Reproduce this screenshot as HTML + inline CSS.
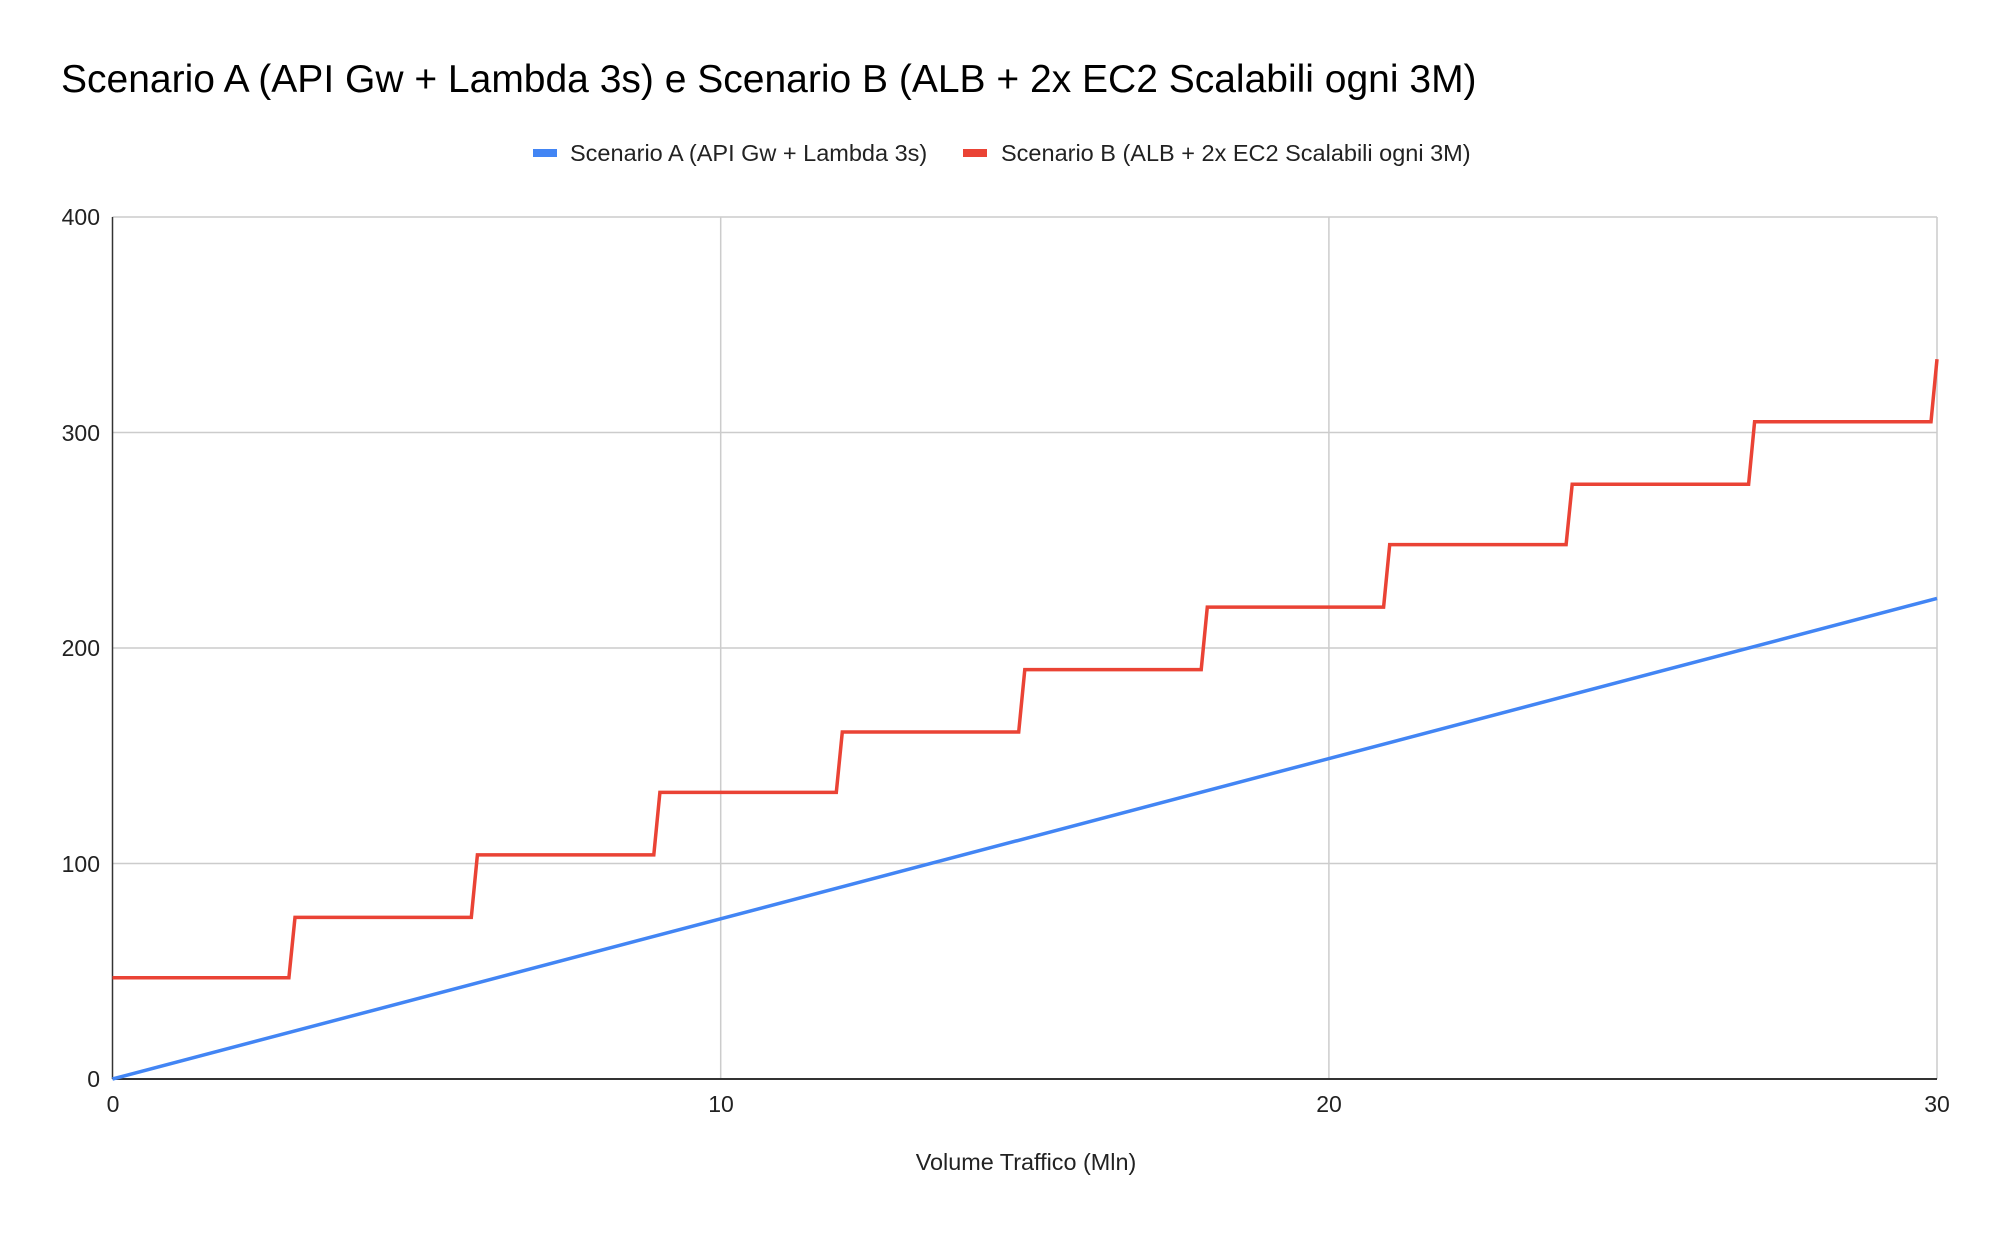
<!DOCTYPE html>
<html><head><meta charset="utf-8"><style>
html,body{margin:0;padding:0;background:#fff;}
svg{display:block;font-family:"Liberation Sans",Arial,sans-serif;}
</style></head><body>
<svg width="1999" height="1234" viewBox="0 0 1999 1234" xmlns="http://www.w3.org/2000/svg">
<rect width="1999" height="1234" fill="#fff"/>
<text x="61" y="92" font-size="39" fill="#000">Scenario A (API Gw + Lambda 3s) e Scenario B (ALB + 2x EC2 Scalabili ogni 3M)</text>
<rect x="533" y="149" width="24" height="8" fill="#4285f4"/>
<text x="570" y="161" font-size="23.5" fill="#222">Scenario A (API Gw + Lambda 3s)</text>
<rect x="963" y="149" width="24" height="8" fill="#ea4335"/>
<text x="1001" y="161" font-size="23.5" fill="#222">Scenario B (ALB + 2x EC2 Scalabili ogni 3M)</text>
<g stroke="#cccccc" stroke-width="1.5" fill="none">
<line x1="112.5" y1="217" x2="1937" y2="217"/>
<line x1="112.5" y1="432.5" x2="1937" y2="432.5"/>
<line x1="112.5" y1="648" x2="1937" y2="648"/>
<line x1="112.5" y1="863.5" x2="1937" y2="863.5"/>
<line x1="720.7" y1="217" x2="720.7" y2="1079"/>
<line x1="1328.9" y1="217" x2="1328.9" y2="1079"/>
<line x1="1937" y1="217" x2="1937" y2="1079"/>
</g>
<line x1="112.5" y1="217" x2="112.5" y2="1079" stroke="#333" stroke-width="1.5"/>
<line x1="112.5" y1="1079" x2="1937" y2="1079" stroke="#333" stroke-width="2"/>
<g font-size="23" fill="#222" text-anchor="end">
<text x="100" y="225">400</text>
<text x="100" y="441">300</text>
<text x="100" y="656">200</text>
<text x="100" y="872">100</text>
<text x="100" y="1087">0</text>
</g>
<g font-size="23" fill="#222" text-anchor="middle">
<text x="113" y="1112">0</text>
<text x="721" y="1112">10</text>
<text x="1329" y="1112">20</text>
<text x="1937" y="1112">30</text>
</g>
<text x="1026" y="1170" font-size="23.4" fill="#222" text-anchor="middle">Volume Traffico (Mln)</text>
<line x1="112.5" y1="1079" x2="1937" y2="598.4" stroke="#4285f4" stroke-width="3.5"/>
<path d="M112.5,977.7 H288.9 L295,917.4 H471.3 L477.4,854.9 H653.8 L659.9,792.4 H836.3 L842.3,732 H1018.7 L1024.8,669.6 H1201.2 L1207.3,607.1 H1383.6 L1389.7,544.6 H1566.1 L1572.2,484.2 H1748.6 L1754.6,421.7 H1931 L1937,359.2" stroke="#ea4335" stroke-width="3.5" fill="none"/>
</svg>
</body></html>
